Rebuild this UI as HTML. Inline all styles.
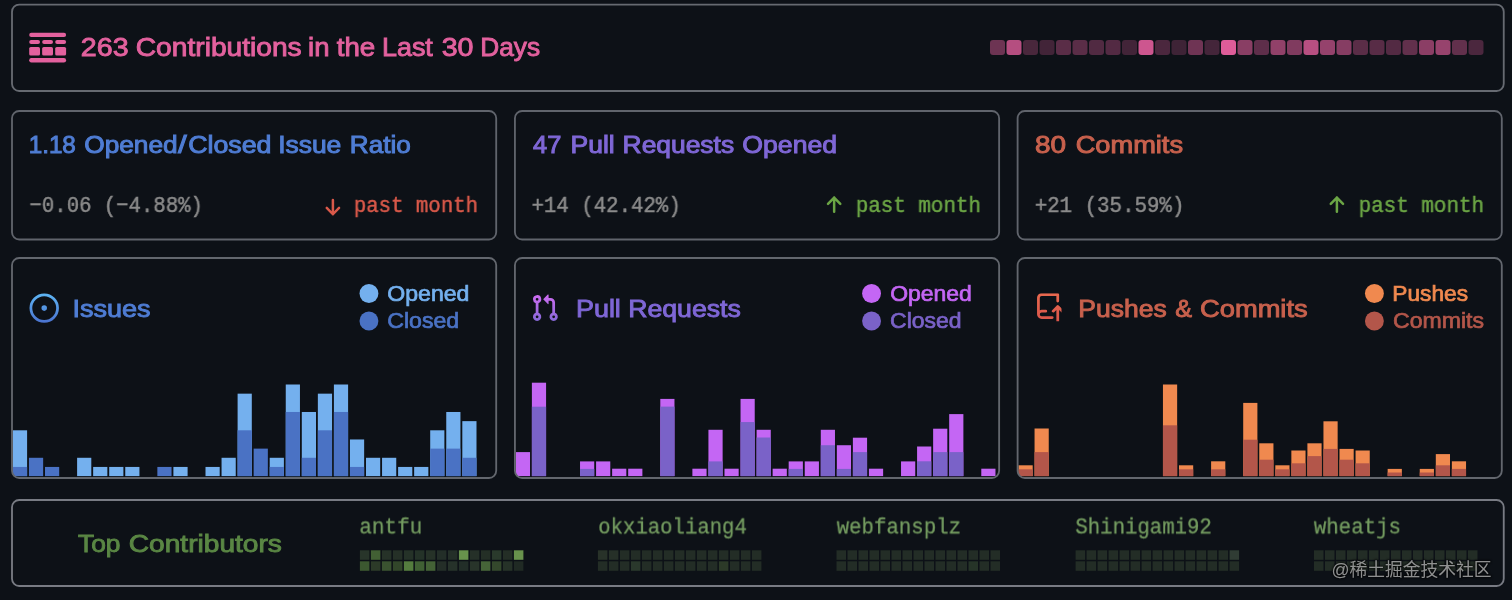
<!DOCTYPE html>
<html lang="en"><head><meta charset="utf-8"><title>Repository activity</title>
<style>
html,body{margin:0;padding:0}
body{width:1512px;height:600px;background:#0d1117;position:relative;overflow:hidden}
#g{position:absolute;left:0;top:0;display:block}
.t{position:absolute;left:0;top:0;white-space:pre;display:block;transform-origin:0 0;will-change:transform}
.s{font-family:"Liberation Sans", sans-serif}
.m{font-family:"Liberation Mono", monospace}
#w{position:absolute;left:0;top:0;width:1512px;height:600px;filter:blur(0.45px);}
</style></head><body><div id="w">
<svg id="g" width="1512" height="600" viewBox="0 0 1512 600"><defs><clipPath id="cp0"><rect x="12" y="258" width="484.2" height="220" rx="7.2"/></clipPath><clipPath id="cp1"><rect x="514.93" y="258" width="484.2" height="220" rx="7.2"/></clipPath><clipPath id="cp2"><rect x="1017.6" y="258" width="484.2" height="220" rx="7.2"/></clipPath><linearGradient id="gi" x1="0" y1="0" x2="0" y2="1"><stop offset="0" stop-color="#5eb6f4"/><stop offset="1" stop-color="#4a72cf"/></linearGradient><linearGradient id="gp" x1="0" y1="0" x2="0" y2="1"><stop offset="0" stop-color="#cf6cf2"/><stop offset="1" stop-color="#8769d8"/></linearGradient><linearGradient id="gr" x1="0" y1="0" x2="0" y2="1"><stop offset="0" stop-color="#e9694f"/><stop offset="1" stop-color="#d8544a"/></linearGradient><clipPath id="cgr"><rect x="0" y="0" width="14.3" height="15.25"/></clipPath><filter id="wsh" x="-5%" y="-30%" width="110%" height="160%"><feGaussianBlur stdDeviation="1.3"/></filter></defs>
<g fill="#e3619e" transform="translate(29.2,32.8)"><rect x="0" y="0" width="36.9" height="4.2" rx="2.1"/><rect x="0" y="7.1" width="10.8" height="4.1" rx="2.0"/><rect x="12.95" y="7.1" width="10.85" height="4.1" rx="2.0"/><rect x="26.0" y="7.1" width="10.9" height="4.1" rx="2.0"/><rect x="0" y="14.2" width="10.8" height="8.5" rx="1.6"/><rect x="12.95" y="14.2" width="10.85" height="8.5" rx="1.6"/><rect x="26.0" y="14.2" width="10.9" height="8.5" rx="1.6"/><rect x="0" y="25.3" width="36.9" height="4.4" rx="2.2"/></g>
<rect x="990.00" y="40" width="15" height="15" rx="3" fill="#6d3453"/>
<rect x="1006.50" y="40" width="15" height="15" rx="3" fill="#b54e80"/>
<rect x="1023.00" y="40" width="15" height="15" rx="3" fill="#49273c"/>
<rect x="1039.50" y="40" width="15" height="15" rx="3" fill="#422438"/>
<rect x="1056.00" y="40" width="15" height="15" rx="3" fill="#5a2d47"/>
<rect x="1072.50" y="40" width="15" height="15" rx="3" fill="#5a2d47"/>
<rect x="1089.00" y="40" width="15" height="15" rx="3" fill="#512a42"/>
<rect x="1105.50" y="40" width="15" height="15" rx="3" fill="#532a43"/>
<rect x="1122.00" y="40" width="15" height="15" rx="3" fill="#422438"/>
<rect x="1138.50" y="40" width="15" height="15" rx="3" fill="#cd568f"/>
<rect x="1155.00" y="40" width="15" height="15" rx="3" fill="#4b273e"/>
<rect x="1171.50" y="40" width="15" height="15" rx="3" fill="#3e2336"/>
<rect x="1188.00" y="40" width="15" height="15" rx="3" fill="#6f3454"/>
<rect x="1204.50" y="40" width="15" height="15" rx="3" fill="#44253a"/>
<rect x="1221.00" y="40" width="15" height="15" rx="3" fill="#de5c99"/>
<rect x="1237.50" y="40" width="15" height="15" rx="3" fill="#893e64"/>
<rect x="1254.00" y="40" width="15" height="15" rx="3" fill="#5e2e4a"/>
<rect x="1270.50" y="40" width="15" height="15" rx="3" fill="#914169"/>
<rect x="1287.00" y="40" width="15" height="15" rx="3" fill="#803b5f"/>
<rect x="1303.50" y="40" width="15" height="15" rx="3" fill="#b74f81"/>
<rect x="1320.00" y="40" width="15" height="15" rx="3" fill="#95426c"/>
<rect x="1336.50" y="40" width="15" height="15" rx="3" fill="#863d63"/>
<rect x="1353.00" y="40" width="15" height="15" rx="3" fill="#5a2d47"/>
<rect x="1369.50" y="40" width="15" height="15" rx="3" fill="#582c46"/>
<rect x="1386.00" y="40" width="15" height="15" rx="3" fill="#532a43"/>
<rect x="1402.50" y="40" width="15" height="15" rx="3" fill="#62304c"/>
<rect x="1419.00" y="40" width="15" height="15" rx="3" fill="#8b3e65"/>
<rect x="1435.50" y="40" width="15" height="15" rx="3" fill="#97436d"/>
<rect x="1452.00" y="40" width="15" height="15" rx="3" fill="#62304c"/>
<rect x="1468.50" y="40" width="15" height="15" rx="3" fill="#4b273e"/>
<path transform="translate(325.50,198.70)" d="M7.4 1.25 V15.55 M1.25 9.25 L7.4 15.55 L13.55 9.25" fill="none" stroke="#d9594a" stroke-width="2.5" stroke-linecap="round" stroke-linejoin="round"/>
<path transform="translate(826.75,196.30)" d="M7.4 15.55 V1.25 M1.25 7.55 L7.4 1.25 L13.55 7.55" fill="none" stroke="#6ba545" stroke-width="2.5" stroke-linecap="round" stroke-linejoin="round"/>
<path transform="translate(1329.50,196.30)" d="M7.4 15.55 V1.25 M1.25 7.55 L7.4 1.25 L13.55 7.55" fill="none" stroke="#6ba545" stroke-width="2.5" stroke-linecap="round" stroke-linejoin="round"/>
<g clip-path="url(#cp0)"><rect x="12.90" y="430.30" width="14.2" height="45.80" fill="#74b0ee"/><rect x="12.90" y="466.94" width="14.2" height="9.16" fill="#4a72c4"/><rect x="28.95" y="457.78" width="14.2" height="18.32" fill="#4a72c4"/><rect x="45.00" y="466.94" width="14.2" height="9.16" fill="#4a72c4"/><rect x="77.10" y="457.78" width="14.2" height="18.32" fill="#74b0ee"/><rect x="93.15" y="466.94" width="14.2" height="9.16" fill="#74b0ee"/><rect x="109.20" y="466.94" width="14.2" height="9.16" fill="#74b0ee"/><rect x="125.25" y="466.94" width="14.2" height="9.16" fill="#74b0ee"/><rect x="157.35" y="466.94" width="14.2" height="9.16" fill="#4a72c4"/><rect x="173.40" y="466.94" width="14.2" height="9.16" fill="#74b0ee"/><rect x="205.50" y="466.94" width="14.2" height="9.16" fill="#74b0ee"/><rect x="221.55" y="457.78" width="14.2" height="18.32" fill="#74b0ee"/><rect x="237.60" y="393.66" width="14.2" height="82.44" fill="#74b0ee"/><rect x="237.60" y="430.30" width="14.2" height="45.80" fill="#4a72c4"/><rect x="253.65" y="448.62" width="14.2" height="27.48" fill="#4a72c4"/><rect x="269.70" y="457.78" width="14.2" height="18.32" fill="#74b0ee"/><rect x="269.70" y="466.94" width="14.2" height="9.16" fill="#4a72c4"/><rect x="285.75" y="384.50" width="14.2" height="91.60" fill="#74b0ee"/><rect x="285.75" y="411.98" width="14.2" height="64.12" fill="#4a72c4"/><rect x="301.80" y="411.98" width="14.2" height="64.12" fill="#74b0ee"/><rect x="301.80" y="457.78" width="14.2" height="18.32" fill="#4a72c4"/><rect x="317.85" y="393.66" width="14.2" height="82.44" fill="#74b0ee"/><rect x="317.85" y="430.30" width="14.2" height="45.80" fill="#4a72c4"/><rect x="333.90" y="384.50" width="14.2" height="91.60" fill="#74b0ee"/><rect x="333.90" y="411.98" width="14.2" height="64.12" fill="#4a72c4"/><rect x="349.95" y="439.46" width="14.2" height="36.64" fill="#74b0ee"/><rect x="349.95" y="466.94" width="14.2" height="9.16" fill="#4a72c4"/><rect x="366.00" y="457.78" width="14.2" height="18.32" fill="#74b0ee"/><rect x="382.05" y="457.78" width="14.2" height="18.32" fill="#74b0ee"/><rect x="398.10" y="466.94" width="14.2" height="9.16" fill="#74b0ee"/><rect x="414.15" y="466.94" width="14.2" height="9.16" fill="#74b0ee"/><rect x="430.20" y="430.30" width="14.2" height="45.80" fill="#74b0ee"/><rect x="430.20" y="448.62" width="14.2" height="27.48" fill="#4a72c4"/><rect x="446.25" y="411.98" width="14.2" height="64.12" fill="#74b0ee"/><rect x="446.25" y="448.62" width="14.2" height="27.48" fill="#4a72c4"/><rect x="462.30" y="421.14" width="14.2" height="54.96" fill="#74b0ee"/><rect x="462.30" y="457.78" width="14.2" height="18.32" fill="#4a72c4"/></g>
<circle cx="368.95" cy="293.55" r="9.45" fill="#74b0ee"/>
<circle cx="368.95" cy="321.05" r="9.45" fill="#4a72c4"/>
<g clip-path="url(#cp1)"><rect x="515.83" y="452.10" width="14.2" height="24.00" fill="#c466f4"/><rect x="531.88" y="382.70" width="14.2" height="93.40" fill="#c466f4"/><rect x="531.88" y="406.70" width="14.2" height="69.40" fill="#7a62c8"/><rect x="580.03" y="461.40" width="14.2" height="14.70" fill="#c466f4"/><rect x="580.03" y="468.90" width="14.2" height="7.20" fill="#7a62c8"/><rect x="596.08" y="461.40" width="14.2" height="14.70" fill="#c466f4"/><rect x="612.13" y="468.70" width="14.2" height="7.40" fill="#c466f4"/><rect x="628.18" y="468.70" width="14.2" height="7.40" fill="#c466f4"/><rect x="660.28" y="398.90" width="14.2" height="77.20" fill="#c466f4"/><rect x="660.28" y="406.62" width="14.2" height="69.48" fill="#7a62c8"/><rect x="692.38" y="468.70" width="14.2" height="7.40" fill="#c466f4"/><rect x="708.43" y="429.78" width="14.2" height="46.32" fill="#c466f4"/><rect x="708.43" y="461.40" width="14.2" height="14.70" fill="#7a62c8"/><rect x="724.48" y="468.70" width="14.2" height="7.40" fill="#c466f4"/><rect x="740.53" y="398.90" width="14.2" height="77.20" fill="#c466f4"/><rect x="740.53" y="422.06" width="14.2" height="54.04" fill="#7a62c8"/><rect x="756.58" y="429.78" width="14.2" height="46.32" fill="#c466f4"/><rect x="756.58" y="437.50" width="14.2" height="38.60" fill="#7a62c8"/><rect x="772.63" y="468.70" width="14.2" height="7.40" fill="#c466f4"/><rect x="788.68" y="461.40" width="14.2" height="14.70" fill="#c466f4"/><rect x="788.68" y="468.90" width="14.2" height="7.20" fill="#7a62c8"/><rect x="804.73" y="461.40" width="14.2" height="14.70" fill="#c466f4"/><rect x="820.78" y="429.78" width="14.2" height="46.32" fill="#c466f4"/><rect x="820.78" y="445.22" width="14.2" height="30.88" fill="#7a62c8"/><rect x="836.83" y="445.22" width="14.2" height="30.88" fill="#c466f4"/><rect x="836.83" y="468.90" width="14.2" height="7.20" fill="#7a62c8"/><rect x="852.88" y="437.70" width="14.2" height="38.40" fill="#c466f4"/><rect x="852.88" y="452.10" width="14.2" height="24.00" fill="#7a62c8"/><rect x="868.93" y="468.70" width="14.2" height="7.40" fill="#c466f4"/><rect x="901.03" y="461.40" width="14.2" height="14.70" fill="#c466f4"/><rect x="917.08" y="446.50" width="14.2" height="29.60" fill="#c466f4"/><rect x="917.08" y="461.30" width="14.2" height="14.80" fill="#7a62c8"/><rect x="933.13" y="428.70" width="14.2" height="47.40" fill="#c466f4"/><rect x="933.13" y="452.10" width="14.2" height="24.00" fill="#7a62c8"/><rect x="949.18" y="414.10" width="14.2" height="62.00" fill="#c466f4"/><rect x="949.18" y="452.10" width="14.2" height="24.00" fill="#7a62c8"/><rect x="981.28" y="468.70" width="14.2" height="7.40" fill="#c466f4"/></g>
<circle cx="871.55" cy="293.55" r="9.45" fill="#c466f4"/>
<circle cx="871.55" cy="321.05" r="9.45" fill="#7a62c8"/>
<g clip-path="url(#cp2)"><rect x="1018.50" y="465.30" width="14.2" height="10.80" fill="#f0894f"/><rect x="1018.50" y="469.30" width="14.2" height="6.80" fill="#b3564a"/><rect x="1034.55" y="428.50" width="14.2" height="47.60" fill="#f0894f"/><rect x="1034.55" y="452.10" width="14.2" height="24.00" fill="#b3564a"/><rect x="1162.95" y="384.50" width="14.2" height="91.60" fill="#f0894f"/><rect x="1162.95" y="425.30" width="14.2" height="50.80" fill="#b3564a"/><rect x="1179.00" y="465.30" width="14.2" height="10.80" fill="#f0894f"/><rect x="1179.00" y="469.30" width="14.2" height="6.80" fill="#b3564a"/><rect x="1211.10" y="461.30" width="14.2" height="14.80" fill="#f0894f"/><rect x="1211.10" y="469.30" width="14.2" height="6.80" fill="#b3564a"/><rect x="1243.20" y="402.90" width="14.2" height="73.20" fill="#f0894f"/><rect x="1243.20" y="439.70" width="14.2" height="36.40" fill="#b3564a"/><rect x="1259.25" y="443.30" width="14.2" height="32.80" fill="#f0894f"/><rect x="1259.25" y="459.70" width="14.2" height="16.40" fill="#b3564a"/><rect x="1275.30" y="465.30" width="14.2" height="10.80" fill="#f0894f"/><rect x="1275.30" y="469.30" width="14.2" height="6.80" fill="#b3564a"/><rect x="1291.35" y="450.50" width="14.2" height="25.60" fill="#f0894f"/><rect x="1291.35" y="463.30" width="14.2" height="12.80" fill="#b3564a"/><rect x="1307.40" y="443.30" width="14.2" height="32.80" fill="#f0894f"/><rect x="1307.40" y="456.10" width="14.2" height="20.00" fill="#b3564a"/><rect x="1323.45" y="421.30" width="14.2" height="54.80" fill="#f0894f"/><rect x="1323.45" y="448.90" width="14.2" height="27.20" fill="#b3564a"/><rect x="1339.50" y="448.90" width="14.2" height="27.20" fill="#f0894f"/><rect x="1339.50" y="459.70" width="14.2" height="16.40" fill="#b3564a"/><rect x="1355.55" y="450.50" width="14.2" height="25.60" fill="#f0894f"/><rect x="1355.55" y="463.30" width="14.2" height="12.80" fill="#b3564a"/><rect x="1387.65" y="468.90" width="14.2" height="7.20" fill="#f0894f"/><rect x="1387.65" y="472.50" width="14.2" height="3.60" fill="#b3564a"/><rect x="1419.75" y="468.90" width="14.2" height="7.20" fill="#f0894f"/><rect x="1419.75" y="472.50" width="14.2" height="3.60" fill="#b3564a"/><rect x="1435.80" y="454.10" width="14.2" height="22.00" fill="#f0894f"/><rect x="1435.80" y="465.30" width="14.2" height="10.80" fill="#b3564a"/><rect x="1451.85" y="461.30" width="14.2" height="14.80" fill="#f0894f"/><rect x="1451.85" y="468.90" width="14.2" height="7.20" fill="#b3564a"/></g>
<circle cx="1374.40" cy="293.55" r="9.45" fill="#f0894f"/>
<circle cx="1374.40" cy="321.05" r="9.45" fill="#b3564a"/>
<g transform="translate(29.5,293.4) scale(1.84)"><path fill="url(#gi)" d="M8 9.5a1.5 1.5 0 1 0 0-3 1.5 1.5 0 0 0 0 3Z M8 0a8 8 0 1 1 0 16A8 8 0 0 1 8 0ZM1.5 8a6.5 6.5 0 1 0 13 0 6.5 6.5 0 0 0-13 0Z"/></g>
<g transform="translate(530.2,293.3) scale(1.84)"><path fill="url(#gp)" d="M1.5 3.25a2.25 2.25 0 1 1 3 2.122v5.256a2.251 2.251 0 1 1-1.5 0V5.372A2.25 2.25 0 0 1 1.5 3.25Zm5.677-.177L9.573.677A.25.25 0 0 1 10 .854V2.5h1A2.5 2.5 0 0 1 13.5 5v5.628a2.251 2.251 0 1 1-1.5 0V5a1 1 0 0 0-1-1h-1v1.646a.25.25 0 0 1-.427.177L7.177 3.427a.25.25 0 0 1 0-.354ZM3.75 2.5a.75.75 0 1 0 0 1.5.75.75 0 0 0 0-1.5Zm0 9.5a.75.75 0 1 0 0 1.5.75.75 0 0 0 0-1.5Zm8.25.75a.75.75 0 1 0 1.5 0 .75.75 0 0 0-1.5 0Z"/></g>
<g transform="translate(1035.2,293.2) scale(1.84)" clip-path="url(#cgr)"><path fill="url(#gr)" d="M1 2.5A2.5 2.5 0 0 1 3.5 0h8.75a.75.75 0 0 1 .75.75v3.5a.75.75 0 0 1-1.5 0V1.5h-8a1 1 0 0 0-1 1v6.708A2.493 2.493 0 0 1 3.5 9h2.25a.75.75 0 0 1 0 1.5H3.5a1 1 0 0 0 0 2h5.75a.75.75 0 0 1 0 1.5H3.5A2.5 2.5 0 0 1 1 11.5Zm13.23 7.79h-.001l-1.224-1.224v6.184a.75.75 0 0 1-1.5 0V9.066L10.28 10.29a.75.75 0 0 1-1.06-1.061l2.505-2.504a.75.75 0 0 1 1.06 0L15.29 9.23a.751.751 0 0 1-.018 1.042.751.751 0 0 1-1.042.018Z"/></g>
<rect x="359.90" y="550.30" width="9.5" height="9.5" fill="#28352a"/>
<rect x="370.90" y="550.30" width="9.5" height="9.5" fill="#426034"/>
<rect x="381.90" y="550.30" width="9.5" height="9.5" fill="#263228"/>
<rect x="392.90" y="550.30" width="9.5" height="9.5" fill="#253027"/>
<rect x="403.90" y="550.30" width="9.5" height="9.5" fill="#253228"/>
<rect x="414.90" y="550.30" width="9.5" height="9.5" fill="#243228"/>
<rect x="425.90" y="550.30" width="9.5" height="9.5" fill="#263228"/>
<rect x="436.90" y="550.30" width="9.5" height="9.5" fill="#232e28"/>
<rect x="447.90" y="550.30" width="9.5" height="9.5" fill="#242f28"/>
<rect x="458.90" y="550.30" width="9.5" height="9.5" fill="#68924c"/>
<rect x="469.90" y="550.30" width="9.5" height="9.5" fill="#253028"/>
<rect x="480.90" y="550.30" width="9.5" height="9.5" fill="#242f26"/>
<rect x="491.90" y="550.30" width="9.5" height="9.5" fill="#2a3a2c"/>
<rect x="502.90" y="550.30" width="9.5" height="9.5" fill="#242e26"/>
<rect x="513.90" y="550.30" width="9.5" height="9.5" fill="#68924c"/>
<rect x="359.90" y="561.30" width="9.5" height="9.5" fill="#3c5830"/>
<rect x="370.90" y="561.30" width="9.5" height="9.5" fill="#2c3a28"/>
<rect x="381.90" y="561.30" width="9.5" height="9.5" fill="#3a5230"/>
<rect x="392.90" y="561.30" width="9.5" height="9.5" fill="#32462a"/>
<rect x="403.90" y="561.30" width="9.5" height="9.5" fill="#547c3e"/>
<rect x="414.90" y="561.30" width="9.5" height="9.5" fill="#406034"/>
<rect x="425.90" y="561.30" width="9.5" height="9.5" fill="#446236"/>
<rect x="436.90" y="561.30" width="9.5" height="9.5" fill="#242e28"/>
<rect x="447.90" y="561.30" width="9.5" height="9.5" fill="#26322a"/>
<rect x="458.90" y="561.30" width="9.5" height="9.5" fill="#222e28"/>
<rect x="469.90" y="561.30" width="9.5" height="9.5" fill="#28342a"/>
<rect x="480.90" y="561.30" width="9.5" height="9.5" fill="#466438"/>
<rect x="491.90" y="561.30" width="9.5" height="9.5" fill="#34482c"/>
<rect x="502.90" y="561.30" width="9.5" height="9.5" fill="#263228"/>
<rect x="513.90" y="561.30" width="9.5" height="9.5" fill="#202a24"/>
<rect x="597.90" y="550.30" width="9.5" height="9.5" fill="#283229"/>
<rect x="608.90" y="550.30" width="9.5" height="9.5" fill="#263028"/>
<rect x="619.90" y="550.30" width="9.5" height="9.5" fill="#232d26"/>
<rect x="630.90" y="550.30" width="9.5" height="9.5" fill="#232d26"/>
<rect x="641.90" y="550.30" width="9.5" height="9.5" fill="#232d26"/>
<rect x="652.90" y="550.30" width="9.5" height="9.5" fill="#232d26"/>
<rect x="663.90" y="550.30" width="9.5" height="9.5" fill="#232d26"/>
<rect x="674.90" y="550.30" width="9.5" height="9.5" fill="#232d26"/>
<rect x="685.90" y="550.30" width="9.5" height="9.5" fill="#232d26"/>
<rect x="696.90" y="550.30" width="9.5" height="9.5" fill="#232d26"/>
<rect x="707.90" y="550.30" width="9.5" height="9.5" fill="#232d26"/>
<rect x="718.90" y="550.30" width="9.5" height="9.5" fill="#232d26"/>
<rect x="729.90" y="550.30" width="9.5" height="9.5" fill="#232d26"/>
<rect x="740.90" y="550.30" width="9.5" height="9.5" fill="#232d26"/>
<rect x="751.90" y="550.30" width="9.5" height="9.5" fill="#232d26"/>
<rect x="597.90" y="561.30" width="9.5" height="9.5" fill="#232d26"/>
<rect x="608.90" y="561.30" width="9.5" height="9.5" fill="#232d26"/>
<rect x="619.90" y="561.30" width="9.5" height="9.5" fill="#232d26"/>
<rect x="630.90" y="561.30" width="9.5" height="9.5" fill="#2a382c"/>
<rect x="641.90" y="561.30" width="9.5" height="9.5" fill="#232d26"/>
<rect x="652.90" y="561.30" width="9.5" height="9.5" fill="#232d26"/>
<rect x="663.90" y="561.30" width="9.5" height="9.5" fill="#232d26"/>
<rect x="674.90" y="561.30" width="9.5" height="9.5" fill="#232d26"/>
<rect x="685.90" y="561.30" width="9.5" height="9.5" fill="#232d26"/>
<rect x="696.90" y="561.30" width="9.5" height="9.5" fill="#232d26"/>
<rect x="707.90" y="561.30" width="9.5" height="9.5" fill="#232d26"/>
<rect x="718.90" y="561.30" width="9.5" height="9.5" fill="#2c3a28"/>
<rect x="729.90" y="561.30" width="9.5" height="9.5" fill="#232d26"/>
<rect x="740.90" y="561.30" width="9.5" height="9.5" fill="#232d26"/>
<rect x="751.90" y="561.30" width="9.5" height="9.5" fill="#232d26"/>
<rect x="836.50" y="550.30" width="9.5" height="9.5" fill="#232d26"/>
<rect x="847.50" y="550.30" width="9.5" height="9.5" fill="#232d26"/>
<rect x="858.50" y="550.30" width="9.5" height="9.5" fill="#232d26"/>
<rect x="869.50" y="550.30" width="9.5" height="9.5" fill="#232d26"/>
<rect x="880.50" y="550.30" width="9.5" height="9.5" fill="#232d26"/>
<rect x="891.50" y="550.30" width="9.5" height="9.5" fill="#232d26"/>
<rect x="902.50" y="550.30" width="9.5" height="9.5" fill="#232d26"/>
<rect x="913.50" y="550.30" width="9.5" height="9.5" fill="#232d26"/>
<rect x="924.50" y="550.30" width="9.5" height="9.5" fill="#232d26"/>
<rect x="935.50" y="550.30" width="9.5" height="9.5" fill="#232d26"/>
<rect x="946.50" y="550.30" width="9.5" height="9.5" fill="#232d26"/>
<rect x="957.50" y="550.30" width="9.5" height="9.5" fill="#232d26"/>
<rect x="968.50" y="550.30" width="9.5" height="9.5" fill="#232d26"/>
<rect x="979.50" y="550.30" width="9.5" height="9.5" fill="#232d26"/>
<rect x="990.50" y="550.30" width="9.5" height="9.5" fill="#232d26"/>
<rect x="836.50" y="561.30" width="9.5" height="9.5" fill="#232d26"/>
<rect x="847.50" y="561.30" width="9.5" height="9.5" fill="#232d26"/>
<rect x="858.50" y="561.30" width="9.5" height="9.5" fill="#232d26"/>
<rect x="869.50" y="561.30" width="9.5" height="9.5" fill="#232d26"/>
<rect x="880.50" y="561.30" width="9.5" height="9.5" fill="#232d26"/>
<rect x="891.50" y="561.30" width="9.5" height="9.5" fill="#232d26"/>
<rect x="902.50" y="561.30" width="9.5" height="9.5" fill="#232d26"/>
<rect x="913.50" y="561.30" width="9.5" height="9.5" fill="#232d26"/>
<rect x="924.50" y="561.30" width="9.5" height="9.5" fill="#232d26"/>
<rect x="935.50" y="561.30" width="9.5" height="9.5" fill="#232d26"/>
<rect x="946.50" y="561.30" width="9.5" height="9.5" fill="#232d26"/>
<rect x="957.50" y="561.30" width="9.5" height="9.5" fill="#232d26"/>
<rect x="968.50" y="561.30" width="9.5" height="9.5" fill="#263428"/>
<rect x="979.50" y="561.30" width="9.5" height="9.5" fill="#232d26"/>
<rect x="990.50" y="561.30" width="9.5" height="9.5" fill="#232d26"/>
<rect x="1075.60" y="550.30" width="9.5" height="9.5" fill="#232d26"/>
<rect x="1086.60" y="550.30" width="9.5" height="9.5" fill="#232d26"/>
<rect x="1097.60" y="550.30" width="9.5" height="9.5" fill="#232d26"/>
<rect x="1108.60" y="550.30" width="9.5" height="9.5" fill="#232d26"/>
<rect x="1119.60" y="550.30" width="9.5" height="9.5" fill="#232d26"/>
<rect x="1130.60" y="550.30" width="9.5" height="9.5" fill="#232d26"/>
<rect x="1141.60" y="550.30" width="9.5" height="9.5" fill="#232d26"/>
<rect x="1152.60" y="550.30" width="9.5" height="9.5" fill="#232d26"/>
<rect x="1163.60" y="550.30" width="9.5" height="9.5" fill="#232d26"/>
<rect x="1174.60" y="550.30" width="9.5" height="9.5" fill="#232d26"/>
<rect x="1185.60" y="550.30" width="9.5" height="9.5" fill="#232d26"/>
<rect x="1196.60" y="550.30" width="9.5" height="9.5" fill="#232d26"/>
<rect x="1207.60" y="550.30" width="9.5" height="9.5" fill="#232d26"/>
<rect x="1218.60" y="550.30" width="9.5" height="9.5" fill="#232d26"/>
<rect x="1229.60" y="550.30" width="9.5" height="9.5" fill="#303c34"/>
<rect x="1075.60" y="561.30" width="9.5" height="9.5" fill="#232d26"/>
<rect x="1086.60" y="561.30" width="9.5" height="9.5" fill="#232d26"/>
<rect x="1097.60" y="561.30" width="9.5" height="9.5" fill="#232d26"/>
<rect x="1108.60" y="561.30" width="9.5" height="9.5" fill="#232d26"/>
<rect x="1119.60" y="561.30" width="9.5" height="9.5" fill="#232d26"/>
<rect x="1130.60" y="561.30" width="9.5" height="9.5" fill="#232d26"/>
<rect x="1141.60" y="561.30" width="9.5" height="9.5" fill="#232d26"/>
<rect x="1152.60" y="561.30" width="9.5" height="9.5" fill="#232d26"/>
<rect x="1163.60" y="561.30" width="9.5" height="9.5" fill="#232d26"/>
<rect x="1174.60" y="561.30" width="9.5" height="9.5" fill="#232d26"/>
<rect x="1185.60" y="561.30" width="9.5" height="9.5" fill="#232d26"/>
<rect x="1196.60" y="561.30" width="9.5" height="9.5" fill="#232d26"/>
<rect x="1207.60" y="561.30" width="9.5" height="9.5" fill="#232d26"/>
<rect x="1218.60" y="561.30" width="9.5" height="9.5" fill="#232d26"/>
<rect x="1229.60" y="561.30" width="9.5" height="9.5" fill="#232d26"/>
<rect x="1314.00" y="550.30" width="9.5" height="9.5" fill="#232d26"/>
<rect x="1325.00" y="550.30" width="9.5" height="9.5" fill="#232d26"/>
<rect x="1336.00" y="550.30" width="9.5" height="9.5" fill="#232d26"/>
<rect x="1347.00" y="550.30" width="9.5" height="9.5" fill="#232d26"/>
<rect x="1358.00" y="550.30" width="9.5" height="9.5" fill="#232d26"/>
<rect x="1369.00" y="550.30" width="9.5" height="9.5" fill="#232d26"/>
<rect x="1380.00" y="550.30" width="9.5" height="9.5" fill="#232d26"/>
<rect x="1391.00" y="550.30" width="9.5" height="9.5" fill="#232d26"/>
<rect x="1402.00" y="550.30" width="9.5" height="9.5" fill="#232d26"/>
<rect x="1413.00" y="550.30" width="9.5" height="9.5" fill="#232d26"/>
<rect x="1424.00" y="550.30" width="9.5" height="9.5" fill="#232d26"/>
<rect x="1435.00" y="550.30" width="9.5" height="9.5" fill="#232d26"/>
<rect x="1446.00" y="550.30" width="9.5" height="9.5" fill="#232d26"/>
<rect x="1457.00" y="550.30" width="9.5" height="9.5" fill="#232d26"/>
<rect x="1468.00" y="550.30" width="9.5" height="9.5" fill="#232d26"/>
<rect x="1314.00" y="561.30" width="9.5" height="9.5" fill="#232d26"/>
<rect x="1325.00" y="561.30" width="9.5" height="9.5" fill="#232d26"/>
<rect x="1336.00" y="561.30" width="9.5" height="9.5" fill="#232d26"/>
<rect x="1347.00" y="561.30" width="9.5" height="9.5" fill="#232d26"/>
<rect x="1358.00" y="561.30" width="9.5" height="9.5" fill="#232d26"/>
<rect x="1369.00" y="561.30" width="9.5" height="9.5" fill="#232d26"/>
<rect x="1380.00" y="561.30" width="9.5" height="9.5" fill="#232d26"/>
<rect x="1391.00" y="561.30" width="9.5" height="9.5" fill="#232d26"/>
<rect x="1402.00" y="561.30" width="9.5" height="9.5" fill="#232d26"/>
<rect x="1413.00" y="561.30" width="9.5" height="9.5" fill="#232d26"/>
<rect x="1424.00" y="561.30" width="9.5" height="9.5" fill="#232d26"/>
<rect x="1435.00" y="561.30" width="9.5" height="9.5" fill="#232d26"/>
<rect x="1446.00" y="561.30" width="9.5" height="9.5" fill="#232d26"/>
<rect x="1457.00" y="561.30" width="9.5" height="9.5" fill="#232d26"/>
<rect x="1468.00" y="561.30" width="9.5" height="9.5" fill="#232d26"/>
<g transform="translate(1331.4,576.4)"><g filter="url(#wsh)" opacity="0.75"><text x="0" y="0" font-size="17.97" font-family="&quot;Liberation Sans&quot;, &quot;Noto Sans CJK SC&quot;, sans-serif" fill="#000" stroke="#000" stroke-width="1.6" textLength="160" lengthAdjust="spacingAndGlyphs">@稀土掘金技术社区</text></g><text x="0" y="0" font-size="17.97" font-family="&quot;Liberation Sans&quot;, &quot;Noto Sans CJK SC&quot;, sans-serif" fill="#ffffff" fill-opacity="0.55" textLength="160" lengthAdjust="spacingAndGlyphs">@稀土掘金技术社区</text></g>
<g fill="none" stroke-width="1.84"><rect x="12.00" y="4.60" width="1491.75" height="86.40" rx="7.2" stroke="#666a71"/><rect x="12.00" y="111.00" width="484.20" height="128.50" rx="7.2" stroke="#60646c"/><rect x="514.93" y="111.00" width="484.20" height="128.50" rx="7.2" stroke="#60646c"/><rect x="1017.60" y="111.00" width="484.20" height="128.50" rx="7.2" stroke="#60646c"/><rect x="12.00" y="258.00" width="484.20" height="220.00" rx="7.2" stroke="#63676e"/><rect x="514.93" y="258.00" width="484.20" height="220.00" rx="7.2" stroke="#63676e"/><rect x="1017.60" y="258.00" width="484.20" height="220.00" rx="7.2" stroke="#63676e"/><rect x="12.00" y="500.00" width="1491.75" height="86.00" rx="7.2" stroke="#787b83"/></g>
</svg>
<span class="t s" style="font-size:25.5px;line-height:25.5px;color:#e3619e;-webkit-text-stroke:0.90px #e3619e;transform:translate(80.86px,35.01px) scaleX(1.1207)">263</span><span class="t s" style="font-size:25.5px;line-height:25.5px;color:#e3619e;-webkit-text-stroke:0.90px #e3619e;transform:translate(135.77px,35.01px) scaleX(1.1044)">Contributions</span><span class="t s" style="font-size:25.5px;line-height:25.5px;color:#e3619e;-webkit-text-stroke:0.90px #e3619e;transform:translate(308.05px,35.01px) scaleX(1.0789)">in</span><span class="t s" style="font-size:25.5px;line-height:25.5px;color:#e3619e;-webkit-text-stroke:0.90px #e3619e;transform:translate(336.75px,35.01px) scaleX(1.0848)">the</span><span class="t s" style="font-size:25.5px;line-height:25.5px;color:#e3619e;-webkit-text-stroke:0.90px #e3619e;transform:translate(381.97px,35.01px) scaleX(1.0557)">Last</span><span class="t s" style="font-size:25.5px;line-height:25.5px;color:#e3619e;-webkit-text-stroke:0.90px #e3619e;transform:translate(441.70px,35.01px) scaleX(1.1197)">30</span><span class="t s" style="font-size:25.5px;line-height:25.5px;color:#e3619e;-webkit-text-stroke:0.90px #e3619e;transform:translate(480.27px,35.01px) scaleX(1.0301)">Days</span>
<span class="t s" style="font-size:23.5px;line-height:23.5px;color:#4f7dd4;-webkit-text-stroke:0.95px #4f7dd4;transform:translate(28.66px,134.21px) scaleX(1.0317)">1.18</span><span class="t s" style="font-size:23.5px;line-height:23.5px;color:#4f7dd4;-webkit-text-stroke:0.95px #4f7dd4;transform:translate(84.21px,134.21px) scaleX(1.1173)">Opened</span><span class="t s" style="font-size:23.5px;line-height:23.5px;color:#4f7dd4;-webkit-text-stroke:0.95px #4f7dd4;transform:translate(178.11px,134.21px) scaleX(1.3331)">/</span><span class="t s" style="font-size:23.5px;line-height:23.5px;color:#4f7dd4;-webkit-text-stroke:0.95px #4f7dd4;transform:translate(188.20px,134.21px) scaleX(1.1388)">Closed</span><span class="t s" style="font-size:23.5px;line-height:23.5px;color:#4f7dd4;-webkit-text-stroke:0.95px #4f7dd4;transform:translate(278.16px,134.21px) scaleX(1.1236)">Issue</span><span class="t s" style="font-size:23.5px;line-height:23.5px;color:#4f7dd4;-webkit-text-stroke:0.95px #4f7dd4;transform:translate(349.87px,134.21px) scaleX(1.1113)">Ratio</span>
<span class="t m" style="font-size:22.6px;line-height:22.6px;color:#8b8b8b;-webkit-text-stroke:0.50px #8b8b8b;transform:translate(29.51px,194.98px) scaleX(0.9134)">−0.06 (−4.88%)</span>
<span class="t m" style="font-size:22.6px;line-height:22.6px;color:#d9594a;-webkit-text-stroke:0.50px #d9594a;transform:translate(353.82px,194.98px) scaleX(0.9161)">past month</span>
<span class="t s" style="font-size:23.5px;line-height:23.5px;color:#7f67d6;-webkit-text-stroke:0.95px #7f67d6;transform:translate(533.00px,134.21px) scaleX(1.0809)">47</span><span class="t s" style="font-size:23.5px;line-height:23.5px;color:#7f67d6;-webkit-text-stroke:0.95px #7f67d6;transform:translate(570.61px,134.21px) scaleX(1.1258)">Pull</span><span class="t s" style="font-size:23.5px;line-height:23.5px;color:#7f67d6;-webkit-text-stroke:0.95px #7f67d6;transform:translate(622.61px,134.21px) scaleX(1.1227)">Requests</span><span class="t s" style="font-size:23.5px;line-height:23.5px;color:#7f67d6;-webkit-text-stroke:0.95px #7f67d6;transform:translate(742.37px,134.21px) scaleX(1.1323)">Opened</span>
<span class="t m" style="font-size:22.6px;line-height:22.6px;color:#8b8b8b;-webkit-text-stroke:0.50px #8b8b8b;transform:translate(531.50px,194.98px) scaleX(0.9175)">+14 (42.42%)</span>
<span class="t m" style="font-size:22.6px;line-height:22.6px;color:#6ba545;-webkit-text-stroke:0.50px #6ba545;transform:translate(855.77px,194.98px) scaleX(0.9231)">past month</span>
<span class="t s" style="font-size:23.5px;line-height:23.5px;color:#c8614d;-webkit-text-stroke:0.95px #c8614d;transform:translate(1035.11px,134.21px) scaleX(1.1869)">80</span><span class="t s" style="font-size:23.5px;line-height:23.5px;color:#c8614d;-webkit-text-stroke:0.95px #c8614d;transform:translate(1075.67px,134.21px) scaleX(1.1582)">Commits</span>
<span class="t m" style="font-size:22.6px;line-height:22.6px;color:#8b8b8b;-webkit-text-stroke:0.50px #8b8b8b;transform:translate(1034.73px,194.98px) scaleX(0.9198)">+21 (35.59%)</span>
<span class="t m" style="font-size:22.6px;line-height:22.6px;color:#6ba545;-webkit-text-stroke:0.50px #6ba545;transform:translate(1358.63px,194.98px) scaleX(0.9249)">past month</span>
<span class="t s" style="font-size:24.4px;line-height:24.4px;color:#4f7dd4;-webkit-text-stroke:0.90px #4f7dd4;transform:translate(72.40px,297.35px) scaleX(1.1079)">Issues</span>
<span class="t s" style="font-size:22.0px;line-height:22.0px;color:#74b0ee;-webkit-text-stroke:0.72px #74b0ee;transform:translate(387.33px,282.68px) scaleX(1.0484)">Opened</span>
<span class="t s" style="font-size:22.0px;line-height:22.0px;color:#4a72c4;-webkit-text-stroke:0.72px #4a72c4;transform:translate(387.25px,310.28px) scaleX(1.0499)">Closed</span>
<span class="t s" style="font-size:24.4px;line-height:24.4px;color:#7f67d6;-webkit-text-stroke:0.90px #7f67d6;transform:translate(575.92px,297.35px) scaleX(1.1048)">Pull</span><span class="t s" style="font-size:24.4px;line-height:24.4px;color:#7f67d6;-webkit-text-stroke:0.90px #7f67d6;transform:translate(628.14px,297.35px) scaleX(1.0933)">Requests</span>
<span class="t s" style="font-size:22.0px;line-height:22.0px;color:#c466f4;-webkit-text-stroke:0.72px #c466f4;transform:translate(890.16px,282.68px) scaleX(1.0427)">Opened</span>
<span class="t s" style="font-size:22.0px;line-height:22.0px;color:#7a62c8;-webkit-text-stroke:0.72px #7a62c8;transform:translate(890.11px,310.28px) scaleX(1.0442)">Closed</span>
<span class="t s" style="font-size:24.4px;line-height:24.4px;color:#c8614d;-webkit-text-stroke:0.90px #c8614d;transform:translate(1078.25px,297.35px) scaleX(1.0864)">Pushes</span><span class="t s" style="font-size:24.4px;line-height:24.4px;color:#c8614d;-webkit-text-stroke:0.90px #c8614d;transform:translate(1175.13px,297.35px) scaleX(1.0308)">&amp;</span><span class="t s" style="font-size:24.4px;line-height:24.4px;color:#c8614d;-webkit-text-stroke:0.90px #c8614d;transform:translate(1199.97px,297.35px) scaleX(1.1196)">Commits</span>
<span class="t s" style="font-size:22.0px;line-height:22.0px;color:#f0894f;-webkit-text-stroke:0.72px #f0894f;transform:translate(1392.34px,282.68px) scaleX(1.0323)">Pushes</span>
<span class="t s" style="font-size:22.0px;line-height:22.0px;color:#b3564a;-webkit-text-stroke:0.72px #b3564a;transform:translate(1393.07px,310.28px) scaleX(1.0484)">Commits</span>
<span class="t s" style="font-size:24.2px;line-height:24.2px;color:#5a8744;-webkit-text-stroke:0.90px #5a8744;transform:translate(78.00px,532.11px) scaleX(1.0875)">Top</span><span class="t s" style="font-size:24.2px;line-height:24.2px;color:#5a8744;-webkit-text-stroke:0.90px #5a8744;transform:translate(128.78px,532.11px) scaleX(1.1624)">Contributors</span>
<span class="t m" style="font-size:22.6px;line-height:22.6px;color:#749c60;-webkit-text-stroke:0.30px #749c60;transform:translate(359.34px,516.38px) scaleX(0.9282)">antfu</span>
<span class="t m" style="font-size:22.6px;line-height:22.6px;color:#749c60;-webkit-text-stroke:0.30px #749c60;transform:translate(598.22px,516.38px) scaleX(0.9132)">okxiaoliang4</span>
<span class="t m" style="font-size:22.6px;line-height:22.6px;color:#749c60;-webkit-text-stroke:0.30px #749c60;transform:translate(836.68px,516.38px) scaleX(0.9171)">webfansplz</span>
<span class="t m" style="font-size:22.6px;line-height:22.6px;color:#749c60;-webkit-text-stroke:0.30px #749c60;transform:translate(1075.36px,516.38px) scaleX(0.9149)">Shinigami92</span>
<span class="t m" style="font-size:22.6px;line-height:22.6px;color:#749c60;-webkit-text-stroke:0.30px #749c60;transform:translate(1313.79px,516.38px) scaleX(0.9197)">wheatjs</span>
</div></body></html>
